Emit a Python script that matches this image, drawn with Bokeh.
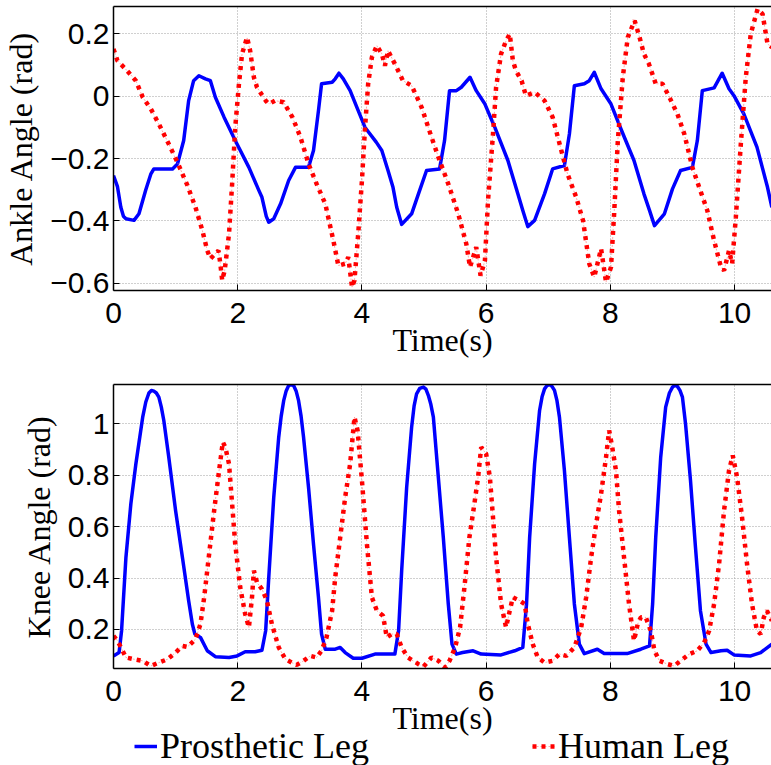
from bokeh.plotting import figure
from bokeh.models import (Range1d, LinearAxis, FixedTicker, Legend, LegendItem,
                          CustomJSTickFormatter)
from bokeh.layouts import column
from bokeh.embed import file_html
from bokeh.resources import INLINE

# ---------------- data ----------------
ankle_prosthetic = [
    (0, -0.254), (0.064, -0.29), (0.118, -0.356), (0.16, -0.385), (0.2, -0.393), (0.33, -0.398),
    (0.41, -0.377), (0.52, -0.30), (0.6, -0.25), (0.65, -0.233), (0.95, -0.233), (1.03, -0.217),
    (1.13, -0.142), (1.21, -0.014), (1.29, 0.05), (1.375, 0.066), (1.48, 0.056),
    (1.56, 0.05), (1.64, -0.003), (1.78, -0.067), (1.96, -0.142), (2.18, -0.228),
    (2.34, -0.302), (2.39, -0.324), (2.46, -0.385), (2.5, -0.404), (2.58, -0.393), (2.69, -0.345),
    (2.82, -0.27), (2.93, -0.228), (3.14, -0.228), (3.22, -0.174), (3.3, -0.046),
    (3.35, 0.04), (3.52, 0.045), (3.57, 0.056), (3.63, 0.074), (3.70, 0.056),
    (3.81, 0.018), (3.94, -0.046), (4.05, -0.1), (4.23, -0.147), (4.32, -0.174),
    (4.42, -0.238), (4.5, -0.292), (4.56, -0.356), (4.64, -0.411), (4.8, -0.377),
    (4.91, -0.313), (5.04, -0.238), (5.25, -0.233), (5.33, -0.142), (5.41, 0.018),
    (5.52, 0.018), (5.6, 0.029), (5.74, 0.061), (5.84, 0.018), (5.98, -0.025),
    (6.14, -0.1), (6.35, -0.206), (6.51, -0.313), (6.59, -0.366), (6.67, -0.418),
    (6.78, -0.398), (6.94, -0.313), (7.07, -0.233), (7.26, -0.222), (7.34, -0.121),
    (7.42, 0.034), (7.58, 0.04), (7.66, 0.05), (7.74, 0.077), (7.85, 0.024),
    (8.01, -0.025), (8.17, -0.105), (8.38, -0.206), (8.54, -0.313), (8.63, -0.366),
    (8.71, -0.415), (8.87, -0.377), (9.0, -0.297), (9.13, -0.238), (9.32, -0.228),
    (9.4, -0.142), (9.48, 0.018), (9.67, 0.027), (9.80, 0.074), (9.91, 0.024),
    (9.99, 0.002), (10.15, -0.057), (10.36, -0.163), (10.53, -0.292), (10.6, -0.356),
]

ankle_human = [
    (0, 0.152), (0.064, 0.114), (0.22, 0.082), (0.36, 0.05), (0.47, -0.003),
    (0.6, -0.04), (0.73, -0.089), (0.89, -0.153), (1.03, -0.212), (1.19, -0.286),
    (1.32, -0.356), (1.43, -0.43), (1.51, -0.495), (1.56, -0.521), (1.64, -0.505),
    (1.69, -0.495), (1.72, -0.537), (1.75, -0.59), (1.79, -0.559), (1.86, -0.441),
    (1.91, -0.281), (1.96, -0.1), (2.02, 0.04), (2.07, 0.136), (2.15, 0.189),
    (2.2, 0.146), (2.26, 0.061), (2.31, 0.029), (2.45, -0.014), (2.5, -0.025),
    (2.6, -0.014), (2.74, -0.019), (2.88, -0.067), (3.01, -0.131), (3.14, -0.217),
    (3.27, -0.281), (3.41, -0.345), (3.54, -0.463), (3.62, -0.543), (3.73, -0.537),
    (3.78, -0.516), (3.84, -0.612), (3.88, -0.59), (3.94, -0.441), (4.0, -0.27),
    (4.05, -0.1), (4.1, 0.04), (4.16, 0.125), (4.24, 0.162), (4.32, 0.136),
    (4.37, 0.098), (4.42, 0.146), (4.53, 0.104), (4.66, 0.05), (4.8, 0.034),
    (4.96, -0.035), (5.12, -0.131), (5.25, -0.206), (5.39, -0.281), (5.55, -0.377),
    (5.68, -0.473), (5.74, -0.548), (5.84, -0.484), (5.91, -0.575), (5.98, -0.527),
    (6.03, -0.334), (6.11, -0.121), (6.16, 0.029), (6.24, 0.136), (6.32, 0.178),
    (6.38, 0.2), (6.43, 0.114), (6.48, 0.082), (6.57, 0.05), (6.64, 0.002),
    (6.78, 0.013), (6.94, -0.014), (7.07, -0.067), (7.21, -0.174), (7.31, -0.249),
    (7.45, -0.324), (7.56, -0.399), (7.66, -0.537), (7.74, -0.58), (7.85, -0.489),
    (7.93, -0.596), (8.01, -0.548), (8.06, -0.377), (8.12, -0.142), (8.2, 0.061),
    (8.28, 0.189), (8.39, 0.243), (8.47, 0.189), (8.54, 0.136), (8.62, 0.104),
    (8.73, 0.04), (8.84, 0.04), (8.95, -0.003), (9.08, -0.057), (9.19, -0.121),
    (9.32, -0.228), (9.43, -0.292), (9.56, -0.366), (9.67, -0.463), (9.78, -0.548),
    (9.83, -0.559), (9.91, -0.495), (9.96, -0.537), (10.02, -0.388), (10.1, -0.153),
    (10.18, 0.061), (10.26, 0.2), (10.37, 0.28), (10.45, 0.264), (10.53, 0.168),
    (10.6, 0.157),
]

knee_prosthetic = [
    (0, 0.097), (0.09, 0.11), (0.13, 0.195), (0.2, 0.48), (0.28, 0.69),
    (0.36, 0.844), (0.47, 1.026), (0.52, 1.085), (0.57, 1.12), (0.61, 1.13), (0.65, 1.127),
    (0.69, 1.12), (0.73, 1.104), (0.77, 1.065),
    (0.81, 1.013), (0.89, 0.87), (1.0, 0.662), (1.11, 0.48), (1.21, 0.312),
    (1.27, 0.22), (1.31, 0.182), (1.4, 0.169), (1.51, 0.117), (1.64, 0.094),
    (1.86, 0.091), (1.99, 0.097), (2.12, 0.113), (2.28, 0.113), (2.39, 0.119),
    (2.45, 0.195), (2.5, 0.403), (2.58, 0.714), (2.66, 0.948), (2.7, 1.03), (2.74, 1.09),
    (2.78, 1.128), (2.82, 1.149), (2.86, 1.153), (2.9, 1.149), (2.94, 1.128), (2.98, 1.09),
    (3.02, 1.03), (3.06, 0.948), (3.14, 0.753),
    (3.22, 0.532), (3.3, 0.325), (3.35, 0.182), (3.41, 0.123), (3.57, 0.123),
    (3.65, 0.13), (3.73, 0.11), (3.86, 0.088), (4.0, 0.088), (4.21, 0.104),
    (4.53, 0.104), (4.59, 0.195), (4.64, 0.43), (4.72, 0.753), (4.8, 0.987),
    (4.84, 1.07), (4.88, 1.117), (4.93, 1.138), (4.99, 1.143), (5.03, 1.135), (5.07, 1.11),
    (5.11, 1.075), (5.15, 1.026), (5.23, 0.792),
    (5.31, 0.558), (5.39, 0.299), (5.45, 0.143), (5.52, 0.104), (5.62, 0.11),
    (5.79, 0.117), (5.92, 0.104), (6.24, 0.101), (6.46, 0.117), (6.59, 0.13),
    (6.65, 0.299), (6.7, 0.558), (6.78, 0.844), (6.86, 1.052), (6.9, 1.105), (6.94, 1.136),
    (6.98, 1.149), (7.02, 1.153), (7.06, 1.146), (7.1, 1.13), (7.14, 1.09), (7.18, 1.026),
    (7.26, 0.818), (7.34, 0.558),
    (7.42, 0.299), (7.5, 0.143), (7.58, 0.106), (7.79, 0.123), (7.9, 0.106),
    (8.27, 0.106), (8.49, 0.123), (8.63, 0.136), (8.68, 0.299), (8.73, 0.558),
    (8.81, 0.87), (8.89, 1.065), (8.95, 1.12), (9.0, 1.143), (9.04, 1.15), (9.08, 1.145),
    (9.12, 1.13), (9.16, 1.104), (9.21, 1.0), (9.29, 0.779), (9.37, 0.519), (9.45, 0.273),
    (9.54, 0.143), (9.62, 0.11), (9.78, 0.117), (9.88, 0.119), (9.99, 0.101), (10.26, 0.097),
    (10.42, 0.11), (10.6, 0.143),
]

knee_human = [
    (0, 0.175), (0.064, 0.156), (0.12, 0.13), (0.2, 0.091), (0.33, 0.084),
    (0.47, 0.078), (0.6, 0.058), (0.73, 0.071), (0.87, 0.084), (1.0, 0.11),
    (1.11, 0.136), (1.19, 0.132), (1.32, 0.162), (1.4, 0.221), (1.46, 0.325),
    (1.54, 0.494), (1.62, 0.662), (1.7, 0.818), (1.76, 0.929), (1.8, 0.909),
    (1.86, 0.844), (1.91, 0.688), (1.96, 0.532), (2.04, 0.364), (2.12, 0.26),
    (2.18, 0.208), (2.23, 0.325), (2.26, 0.429), (2.31, 0.383), (2.39, 0.357),
    (2.47, 0.312), (2.55, 0.221), (2.66, 0.13), (2.77, 0.084), (2.87, 0.071),
    (2.95, 0.062), (3.06, 0.078), (3.17, 0.097), (3.27, 0.091), (3.35, 0.117),
    (3.43, 0.169), (3.52, 0.273), (3.57, 0.403), (3.65, 0.558), (3.73, 0.714),
    (3.81, 0.844), (3.88, 1.026), (3.93, 0.974), (4.0, 0.779), (4.08, 0.532),
    (4.16, 0.325), (4.24, 0.273), (4.34, 0.253), (4.4, 0.169), (4.48, 0.182),
    (4.56, 0.182), (4.64, 0.13), (4.74, 0.091), (4.91, 0.065), (4.99, 0.055),
    (5.12, 0.091), (5.23, 0.078), (5.34, 0.052), (5.41, 0.078), (5.5, 0.13),
    (5.58, 0.208), (5.65, 0.364), (5.73, 0.558), (5.81, 0.688), (5.87, 0.792),
    (5.92, 0.909), (6.0, 0.883), (6.06, 0.792), (6.11, 0.636), (6.16, 0.48),
    (6.24, 0.299), (6.32, 0.208), (6.38, 0.273), (6.43, 0.325), (6.54, 0.312),
    (6.62, 0.299), (6.67, 0.221), (6.75, 0.143), (6.83, 0.091), (6.94, 0.071),
    (7.07, 0.078), (7.18, 0.104), (7.29, 0.097), (7.42, 0.13), (7.53, 0.208),
    (7.61, 0.325), (7.69, 0.48), (7.77, 0.61), (7.85, 0.727), (7.93, 0.87),
    (7.98, 0.974), (8.03, 0.909), (8.09, 0.818), (8.14, 0.662), (8.22, 0.48),
    (8.3, 0.299), (8.38, 0.156), (8.44, 0.221), (8.49, 0.247), (8.57, 0.247),
    (8.65, 0.195), (8.71, 0.117), (8.79, 0.078), (8.92, 0.065), (9.03, 0.058),
    (9.13, 0.078), (9.27, 0.104), (9.4, 0.117), (9.51, 0.149), (9.59, 0.195),
    (9.67, 0.299), (9.75, 0.455), (9.83, 0.662), (9.91, 0.818), (9.97, 0.877),
    (10.04, 0.792), (10.12, 0.636), (10.2, 0.455), (10.28, 0.299), (10.36, 0.195),
    (10.42, 0.182), (10.47, 0.247), (10.52, 0.273), (10.6, 0.234),
]

x_ticks = [0, 2, 4, 6, 8, 10]
ankle_ticks = [-0.6, -0.4, -0.2, 0, 0.2]
knee_ticks = [0.2, 0.4, 0.6, 0.8, 1]
series_labels = ["Prosthetic Leg", "Human Leg"]
x_label = "Time(s)"
y_labels = ["Ankle Angle (rad)", "Knee Angle (rad)"]

# ---------------- styling ----------------
SANS = "Liberation Sans"
SERIF = "Liberation Serif"
BLUE = "#0000ff"
RED = "#ff0000"

num_fmt = CustomJSTickFormatter(code="""
    if (Math.abs(tick) < 1e-9) return "0";
    if (Math.abs(tick - Math.round(tick)) < 1e-9) return String(Math.round(tick)).replace("-", "\u2212");
    return tick.toFixed(1).replace("-", "\u2212");
""")


def make_fig(height, yr, yticks, ylabel, top, bottom):
    p = figure(width=771, height=height, output_backend="svg", toolbar_location=None,
               x_range=Range1d(0, 10.594), y_range=Range1d(*yr),
               min_border_left=111, min_border_right=0,
               min_border_top=top, min_border_bottom=bottom)
    p.outline_line_color = None
    p.background_fill_color = "white"
    p.border_fill_alpha = 0

    for ax, ticks in ((p.xaxis[0], x_ticks), (p.yaxis[0], yticks)):
        ax.ticker = FixedTicker(ticks=ticks)
        ax.formatter = num_fmt
        ax.major_tick_in = 6
        ax.major_tick_out = 0
        ax.minor_tick_line_color = None
        ax.axis_line_width = 1.5
        ax.axis_line_color = "black"
        ax.major_tick_line_color = "black"
        ax.major_tick_line_width = 1
        ax.major_label_text_font = SANS
        ax.major_label_text_font_size = "30px"
        ax.major_label_text_color = "black"
        ax.axis_label_text_font = SERIF
        ax.axis_label_text_font_size = "32px"
        ax.axis_label_text_font_style = "normal"
        ax.axis_label_text_color = "black"
    p.xaxis.axis_label = x_label
    p.yaxis.axis_label = ylabel
    p.xaxis.major_label_standoff = 12
    p.xaxis.axis_label_standoff = -4
    p.yaxis.major_label_standoff = 4
    p.yaxis.axis_label_standoff = 8

    # top edge of the box: a bare axis line, no ticks and no labels
    top_ax = LinearAxis(ticker=FixedTicker(ticks=[]), major_label_standoff=0,
                        major_tick_in=0, major_tick_out=0,
                        minor_tick_line_color=None, axis_line_width=1.5,
                        axis_line_color="black")
    p.add_layout(top_ax, "above")

    p.xgrid.ticker = FixedTicker(ticks=x_ticks)
    p.ygrid.ticker = FixedTicker(ticks=yticks)
    for g in (p.xgrid[0], p.ygrid[0]):
        g.grid_line_color = "#a0a0a0"
        g.grid_line_dash = "1 2"
        g.grid_line_width = 1
    return p


def human_style(p, t, v):
    r1 = p.line(t, v, line_color="#ff7070", line_width=1, line_dash="2 2", line_alpha=0.6)
    r2 = p.line(t, v, line_color=RED, line_width=4.5, line_dash="4 5")
    return [r1, r2]


def draw(p, prost, human):
    tb, vb = zip(*prost)
    th, vh = zip(*human)
    rb = p.line(list(tb), list(vb), line_color=BLUE, line_width=3.5, line_join="round")
    rh = human_style(p, list(th), list(vh))
    return rb, rh


p1 = make_fig(374, (-0.623, 0.288), ankle_ticks, y_labels[0], 6, 84)
draw(p1, ankle_prosthetic, ankle_human)

p2 = make_fig(378, (0.048, 1.153), knee_ticks, y_labels[1], 10, 84)
draw(p2, knee_prosthetic, knee_human)

# legend strip: sample glyphs lie outside its visible range, only the legend shows
pl = figure(width=771, height=50, output_backend="svg", toolbar_location=None,
            x_range=Range1d(0, 771), y_range=Range1d(0, 50),
            x_axis_type=None, y_axis_type=None,
            min_border=0, margin=(-37, 0, 0, 0))
pl.grid.visible = False
pl.outline_line_color = None
pl.background_fill_alpha = 0
pl.border_fill_alpha = 0
lb = pl.line([-20, -10], [-20, -20], line_color=BLUE, line_width=3.5)
lh = human_style(pl, [-20, -10], [-20, -20])

# the strip's frame is aligned with the plots' frames (left edge at 111 px)
for (renderers, label, vx) in (([lb], series_labels[0], 21), (lh, series_labels[1], 419)):
    lg = Legend(items=[LegendItem(label=label, renderers=renderers)],
                location=(vx, -2), orientation="horizontal",
                border_line_color=None, background_fill_alpha=0,
                padding=0, margin=0, glyph_width=23, glyph_height=20,
                label_standoff=3, label_text_font=SERIF, label_text_font_size="36px",
                label_text_color="black")
    pl.add_layout(lg, "center")

layout = column(p1, p2, pl, spacing=0)
open("out.html", "w").write(file_html(layout, INLINE))
